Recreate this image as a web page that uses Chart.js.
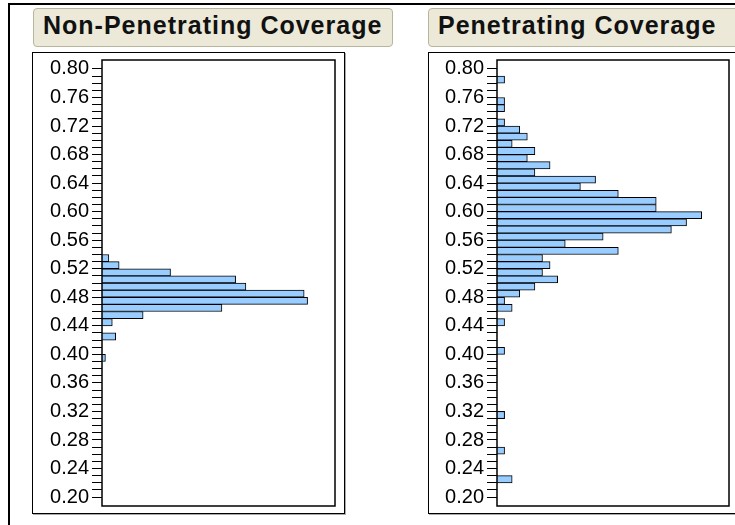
<!DOCTYPE html>
<html>
<head>
<meta charset="utf-8">
<script src="https://cdn.jsdelivr.net/npm/chart.js@4"></script>
<style>
  html, body { margin: 0; padding: 0; background: #fff; overflow: hidden; }
  body { width: 735px; height: 525px; position: relative; font-family: "Liberation Sans", Arial, sans-serif; }
  .frame { position: absolute; left: 8px; top: 3px; width: 800px; height: 600px; border-left: 2px solid #000; border-top: 2px solid #000; }
  .titulo { position: absolute; top: 8px; height: 39px; background: #ece9d8; border: 1px solid #b8b59f; border-radius: 4px;
            font-weight: bold; font-size: 25px; letter-spacing: 1px; line-height: 32px; color: #111; padding-left: 9px; box-sizing: border-box; }
  .panel { position: absolute; top: 52px; height: 462px; border: 1px solid #000; box-shadow: 1px 1px 0 #aaa; box-sizing: border-box; }
  canvas { position: absolute; }
</style>
</head>
<body>
<div class="frame"></div>
<div class="titulo" style="left:33px; width:360px;">Non-Penetrating Coverage</div>
<div class="titulo" style="left:428px; width:330px;">Penetrating Coverage</div>
<div class="panel" style="left:32px; width:313px;"></div>
<div class="panel" style="left:428px; width:330px;"></div>
<canvas id="graficoNoPen" width="310" height="460" style="left:33px; top:53px;"></canvas>
<canvas id="graficoPen" width="308" height="460" style="left:429px; top:53px;"></canvas>

<script>
// limite inferior de cada bin (ancho 0.01)
const bins = [0.19, 0.20, 0.21, 0.22, 0.23, 0.24, 0.25, 0.26, 0.27, 0.28,
              0.29, 0.30, 0.31, 0.32, 0.33, 0.34, 0.35, 0.36, 0.37, 0.38,
              0.39, 0.40, 0.41, 0.42, 0.43, 0.44, 0.45, 0.46, 0.47, 0.48,
              0.49, 0.50, 0.51, 0.52, 0.53, 0.54, 0.55, 0.56, 0.57, 0.58,
              0.59, 0.60, 0.61, 0.62, 0.63, 0.64, 0.65, 0.66, 0.67, 0.68,
              0.69, 0.70, 0.71, 0.72, 0.73, 0.74, 0.75, 0.76, 0.77, 0.78,
              0.79, 0.80];

const nonPenetrating = [0, 0, 0, 0, 0, 0, 0, 0, 0, 0,
                        0, 0, 0, 0, 0, 0, 0, 0, 0, 0,
                        1, 0, 0, 4, 0, 3, 12, 35, 60, 59,
                        42, 39, 20, 5, 2, 0, 0, 0, 0, 0,
                        0, 0, 0, 0, 0, 0, 0, 0, 0, 0,
                        0, 0, 0, 0, 0, 0, 0, 0, 0, 0,
                        0, 0];

const penetrating = [0, 0, 0, 2, 0, 0, 0, 1, 0, 0,
                     0, 0, 1, 0, 0, 0, 0, 0, 0, 0,
                     0, 1, 0, 0, 0, 1, 0, 2, 1, 3,
                     5, 8, 6, 7, 6, 16, 9, 14, 23, 25,
                     27, 21, 21, 16, 11, 13, 5, 7, 4, 5,
                     2, 4, 3, 1, 0, 1, 1, 0, 0, 1,
                     0, 0];

const tickLabels = ['0.20', '0.24', '0.28', '0.32', '0.36', '0.40', '0.44', '0.48',
                    '0.52', '0.56', '0.60', '0.64', '0.68', '0.72', '0.76', '0.80'];

const colorBarra = '#99ccff';

// marco negro alrededor del area de trazado
const marcoPlugin = {
    id: 'marco',
    afterDraw(chart) {
        const a = chart.chartArea;
        const ctx = chart.ctx;
        ctx.save();
        ctx.strokeStyle = '#000';
        ctx.lineWidth = 1.5;
        ctx.strokeRect(a.left, a.top, a.right - a.left, a.bottom - a.top);
        ctx.restore();
    }
};

function crearGrafico(id, valores, maxX, anchoEje) {
    const ctx = document.getElementById(id).getContext('2d');
    return new Chart(ctx, {
        type: 'bar',
        data: {
            datasets: [{
                data: bins.map((b, i) => ({ x: valores[i], y: b + 0.005 })),
                backgroundColor: colorBarra,
                borderColor: '#000',
                borderWidth: 1,
                categoryPercentage: 1,
                barPercentage: 1
            }]
        },
        options: {
            indexAxis: 'y',
            responsive: false,
            animation: false,
            layout: { padding: { left: 0, right: 8, top: 7, bottom: 7 } },
            plugins: { legend: { display: false }, tooltip: { enabled: false } },
            scales: {
                x: { type: 'linear', display: false, min: 0, max: maxX },
                y: {
                    type: 'linear',
                    min: 0.1875,
                    max: 0.8125,
                    offset: false,
                    border: { display: false },
                    grid: { offset: false, drawOnChartArea: false, drawTicks: true, tickLength: 10, color: '#000', lineWidth: 1 },
                    afterBuildTicks: axis => {
                        const t = [];
                        for (let k = 20; k <= 80; k++) t.push({ value: k / 100 });
                        axis.ticks = t;
                    },
                    afterFit: axis => {
                        axis.width = anchoEje;
                        axis.paddingTop = 0;
                        axis.paddingBottom = 0;
                    },
                    ticks: {
                        autoSkip: false,
                        padding: 3,
                        color: '#000',
                        font: { family: 'Liberation Sans, Arial', size: 20 },
                        callback: v => tickLabels.includes(v.toFixed(2)) ? v.toFixed(2) : ''
                    }
                }
            }
        },
        plugins: [marcoPlugin]
    });
}

crearGrafico('graficoNoPen', nonPenetrating, 68, 69);
crearGrafico('graficoPen', penetrating, 30.6, 68);
</script>
</body>
</html>
